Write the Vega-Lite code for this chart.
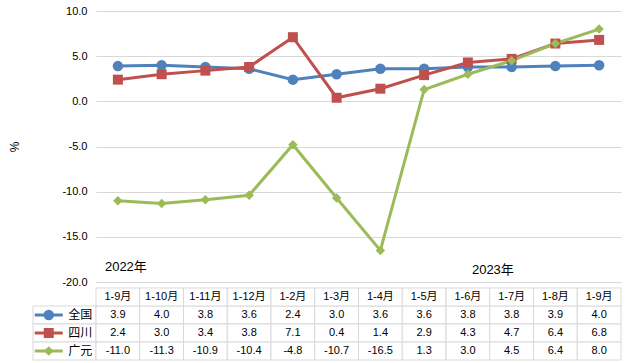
{
  "$schema": "https://vega.github.io/schema/vega-lite/v6.json",
  "background": "white",
  "padding": {"left": 8, "top": 5, "right": 0, "bottom": 0},
  "spacing": 0,
  "datasets": {
    "main": [
      {"period": "2022年1-9月", "month": "1-9月", "series": "全国", "value": 3.9},
      {"period": "2022年1-10月", "month": "1-10月", "series": "全国", "value": 4.0},
      {"period": "2022年1-11月", "month": "1-11月", "series": "全国", "value": 3.8},
      {"period": "2022年1-12月", "month": "1-12月", "series": "全国", "value": 3.6},
      {"period": "2023年1-2月", "month": "1-2月", "series": "全国", "value": 2.4},
      {"period": "2023年1-3月", "month": "1-3月", "series": "全国", "value": 3.0},
      {"period": "2023年1-4月", "month": "1-4月", "series": "全国", "value": 3.6},
      {"period": "2023年1-5月", "month": "1-5月", "series": "全国", "value": 3.6},
      {"period": "2023年1-6月", "month": "1-6月", "series": "全国", "value": 3.8},
      {"period": "2023年1-7月", "month": "1-7月", "series": "全国", "value": 3.8},
      {"period": "2023年1-8月", "month": "1-8月", "series": "全国", "value": 3.9},
      {"period": "2023年1-9月", "month": "1-9月", "series": "全国", "value": 4.0},
      {"period": "2022年1-9月", "month": "1-9月", "series": "四川", "value": 2.4},
      {"period": "2022年1-10月", "month": "1-10月", "series": "四川", "value": 3.0},
      {"period": "2022年1-11月", "month": "1-11月", "series": "四川", "value": 3.4},
      {"period": "2022年1-12月", "month": "1-12月", "series": "四川", "value": 3.8},
      {"period": "2023年1-2月", "month": "1-2月", "series": "四川", "value": 7.1},
      {"period": "2023年1-3月", "month": "1-3月", "series": "四川", "value": 0.4},
      {"period": "2023年1-4月", "month": "1-4月", "series": "四川", "value": 1.4},
      {"period": "2023年1-5月", "month": "1-5月", "series": "四川", "value": 2.9},
      {"period": "2023年1-6月", "month": "1-6月", "series": "四川", "value": 4.3},
      {"period": "2023年1-7月", "month": "1-7月", "series": "四川", "value": 4.7},
      {"period": "2023年1-8月", "month": "1-8月", "series": "四川", "value": 6.4},
      {"period": "2023年1-9月", "month": "1-9月", "series": "四川", "value": 6.8},
      {"period": "2022年1-9月", "month": "1-9月", "series": "广元", "value": -11.0},
      {"period": "2022年1-10月", "month": "1-10月", "series": "广元", "value": -11.3},
      {"period": "2022年1-11月", "month": "1-11月", "series": "广元", "value": -10.9},
      {"period": "2022年1-12月", "month": "1-12月", "series": "广元", "value": -10.4},
      {"period": "2023年1-2月", "month": "1-2月", "series": "广元", "value": -4.8},
      {"period": "2023年1-3月", "month": "1-3月", "series": "广元", "value": -10.7},
      {"period": "2023年1-4月", "month": "1-4月", "series": "广元", "value": -16.5},
      {"period": "2023年1-5月", "month": "1-5月", "series": "广元", "value": 1.3},
      {"period": "2023年1-6月", "month": "1-6月", "series": "广元", "value": 3.0},
      {"period": "2023年1-7月", "month": "1-7月", "series": "广元", "value": 4.5},
      {"period": "2023年1-8月", "month": "1-8月", "series": "广元", "value": 6.4},
      {"period": "2023年1-9月", "month": "1-9月", "series": "广元", "value": 8.0}
    ],
    "years": [
      {"period": "2022年1-9月", "label": "2022年", "value": -18.3},
      {"period": "2023年1-6月", "label": "2023年", "value": -18.7}
    ]
  },
  "vconcat": [
    {
      "hconcat": [
        {
          "width": 63, "height": 271,
          "data": {"values": [{}]},
          "mark": {"type": "text"},
          "encoding": {"text": {"value": ""}}
        },
        {
          "width": 525, "height": 271,
          "layer": [
            {
              "data": {"name": "main"},
              "mark": {"type": "line", "strokeWidth": 3},
              "encoding": {
                "x": {"field": "period", "type": "nominal", "scale": {"type": "point", "padding": 0.5, "domain": ["2022年1-9月","2022年1-10月","2022年1-11月","2022年1-12月","2023年1-2月","2023年1-3月","2023年1-4月","2023年1-5月","2023年1-6月","2023年1-7月","2023年1-8月","2023年1-9月"]}, "axis": null},
                "y": {"field": "value", "type": "quantitative", "scale": {"domain": [-20, 10], "nice": false},
                  "axis": {"values": [-20, -15, -10, -5, 0, 5, 10], "format": ".1f", "labelExpr": "replace(datum.label, '\u2212', '-')", "title": "%", "domain": false, "ticks": false, "labelPadding": 9, "titlePadding": 40, "gridColor": "#d9d9d9", "labelFontSize": 11, "labelColor": "#000", "titleFontSize": 12, "titleFontWeight": "normal", "titleColor": "#000"}},
                "color": {"field": "series", "type": "nominal", "scale": {"domain": ["全国", "四川", "广元"], "range": ["#4f81bd", "#c0504d", "#9bbb59"]}, "legend": null}
              }
            },
            {
              "data": {"name": "main"},
              "mark": {"type": "point", "filled": true, "opacity": 1},
              "encoding": {
                "x": {"field": "period", "type": "nominal"},
                "y": {"field": "value", "type": "quantitative"},
                "color": {"field": "series", "type": "nominal", "legend": null},
                "shape": {"field": "series", "type": "nominal", "scale": {"domain": ["全国", "四川", "广元"], "range": ["circle", "square", "diamond"]}, "legend": null},
                "size": {"field": "series", "type": "nominal", "scale": {"domain": ["全国", "四川", "广元"], "range": [110, 90, 125]}, "legend": null}
              }
            },
            {
              "data": {"name": "years"},
              "transform": [{"filter": "datum.label === '2022年'"}],
              "mark": {"type": "text", "fontSize": 13, "color": "#000", "dx": 8},
              "encoding": {
                "x": {"field": "period", "type": "nominal"},
                "y": {"field": "value", "type": "quantitative"},
                "text": {"field": "label"}
              }
            },
            {
              "data": {"name": "years"},
              "transform": [{"filter": "datum.label === '2023年'"}],
              "mark": {"type": "text", "fontSize": 13, "color": "#000", "dx": 25},
              "encoding": {
                "x": {"field": "period", "type": "nominal"},
                "y": {"field": "value", "type": "quantitative"},
                "text": {"field": "label"}
              }
            }
          ]
        }
      ],
      "spacing": 0,
      "bounds": "flush"
    },
    {
      "hconcat": [
        {
          "width": 63, "height": 72,
          "data": {"name": "main"},
          "transform": [{"filter": "datum.period === '2022年1-9月'"}],
          "encoding": {
            "y": {"field": "series", "type": "nominal", "scale": {"type": "band", "domain": ["header", "全国", "四川", "广元"], "padding": 0}, "axis": null}
          },
          "layer": [
            {"mark": {"type": "rect", "fill": "white", "stroke": "#d9d9d9", "strokeWidth": 1}},
            {
              "mark": {"type": "point", "shape": "stroke", "size": 784, "strokeWidth": 3, "opacity": 1},
              "encoding": {
                "x": {"datum": "symbol", "type": "nominal", "scale": {"type": "band", "domain": ["symbol", "label"], "padding": 0}, "axis": null},
                "color": {"field": "series", "type": "nominal", "scale": {"domain": ["全国", "四川", "广元"], "range": ["#4f81bd", "#c0504d", "#9bbb59"]}, "legend": null}
              }
            },
            {
              "mark": {"type": "point", "filled": true, "opacity": 1},
              "encoding": {
                "x": {"datum": "symbol", "type": "nominal"},
                "color": {"field": "series", "type": "nominal", "legend": null},
                "shape": {"field": "series", "type": "nominal", "scale": {"domain": ["全国", "四川", "广元"], "range": ["circle", "square", "diamond"]}, "legend": null},
                "size": {"field": "series", "type": "nominal", "scale": {"domain": ["全国", "四川", "广元"], "range": [110, 90, 125]}, "legend": null}
              }
            },
            {
              "mark": {"type": "text", "fontSize": 12, "color": "#000"},
              "encoding": {
                "x": {"datum": "label", "type": "nominal"},
                "text": {"field": "series"}
              }
            }
          ]
        },
        {
          "width": 525, "height": 72,
          "data": {"name": "main"},
          "encoding": {
            "x": {"field": "period", "type": "nominal", "scale": {"type": "band", "padding": 0, "domain": ["2022年1-9月","2022年1-10月","2022年1-11月","2022年1-12月","2023年1-2月","2023年1-3月","2023年1-4月","2023年1-5月","2023年1-6月","2023年1-7月","2023年1-8月","2023年1-9月"]}, "axis": null}
          },
          "layer": [
            {
              "mark": {"type": "rect", "fill": "white", "stroke": "#d9d9d9", "strokeWidth": 1},
              "encoding": {"y": {"field": "series", "type": "nominal", "scale": {"type": "band", "domain": ["header", "全国", "四川", "广元"], "padding": 0}, "axis": null}}
            },
            {
              "transform": [{"filter": "datum.series === '全国'"}],
              "mark": {"type": "rect", "fill": "white", "stroke": "#d9d9d9", "strokeWidth": 1},
              "encoding": {"y": {"datum": "header", "type": "nominal"}}
            },
            {
              "transform": [{"calculate": "replace(format(datum.value, '.1f'), '\u2212', '-')", "as": "valueText"}],
              "mark": {"type": "text", "fontSize": 11, "color": "#000"},
              "encoding": {
                "y": {"field": "series", "type": "nominal"},
                "text": {"field": "valueText"}
              }
            },
            {
              "transform": [{"filter": "datum.series === '全国'"}],
              "mark": {"type": "text", "fontSize": 11, "color": "#000"},
              "encoding": {
                "y": {"datum": "header", "type": "nominal"},
                "text": {"field": "month"}
              }
            }
          ]
        }
      ],
      "spacing": 0,
      "bounds": "flush"
    }
  ],
  "config": {
    "view": {"stroke": null},
    "font": "Liberation Sans, Noto Sans CJK SC, sans-serif",
    "axis": {"labelFont": "Liberation Sans, Noto Sans CJK SC, sans-serif", "titleFont": "Liberation Sans, Noto Sans CJK SC, sans-serif"}
  }
}
